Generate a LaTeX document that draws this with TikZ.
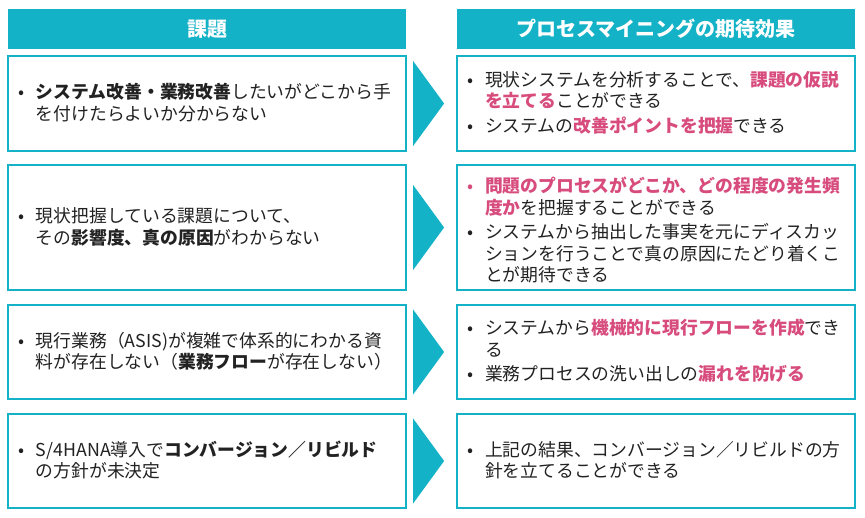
\documentclass[tikz,border=0pt]{standalone}
\usepackage{fontspec}
\setmainfont{Noto Sans CJK JP}
\usetikzlibrary{calc}
\definecolor{teal1}{HTML}{14B2C6}
\definecolor{pinkc}{HTML}{D74C7C}
\definecolor{txt}{HTML}{222222}
\newcommand\hl[1]{{\bfseries\color{pinkc}#1}}
\newcommand\bitem[2][txt]{\par\noindent\hangindent=20pt\hangafter=1\makebox[20pt][l]{\hspace{2pt}\textcolor{#1}{•}}#2\par}
\tikzset{
  hdr/.style={fill=teal1, text=white, minimum width=398pt, minimum height=40pt,
    inner sep=0pt, font=\bfseries\fontsize{20pt}{24pt}\selectfont},
  cbox/.style={draw=teal1, line width=1.2pt, fill=white, text=txt,
    minimum width=398pt, inner xsep=8pt, inner ysep=0pt, text width=382pt,
    font=\fontsize{17.8pt}{21.5pt}\selectfont,
    execute at begin node={\setlength{\parskip}{3pt}},
    execute at end node={\vspace{#1}}},
  cbox/.default=11pt,
  chev/.style={fill=teal1, draw=none}
}
\begin{document}
\begin{tikzpicture}[x=1pt,y=-1pt]
\useasboundingbox (0,0) rectangle (865,518);
\node[hdr] (HL) at (207,29) {課題};
\node[hdr] (HR) at (656,29) {プロセスマイニングの期待効果};

\node[cbox, minimum height=95pt] (L1) at (207,103.5) {%
\bitem{\textbf{システム改善・業務改善}したいがどこから手\newline を付けたらよいか分からない}};
\node[cbox, minimum height=95pt] (R1) at (656,103.5) {%
\bitem{現状システムを分析することで、\hl{課題の仮説}\newline \hl{を立てる}ことができる}%
\bitem{システムの\hl{改善ポイントを把握}できる}};

\node[cbox, minimum height=125pt] (L2) at (207,227.5) {%
\bitem{現状把握している課題について、\newline その\textbf{影響度、真の原因}がわからない}};
\node[cbox=3pt, minimum height=125pt] (R2) at (656,227.5) {%
\bitem[pinkc]{\hl{問題のプロセスがどこか、どの程度の発生頻}\newline \hl{度か}を把握することができる}%
\bitem{システムから抽出した事実を元にディスカッ\newline ションを行うことで真の原因にたどり着くこ\newline とが期待できる}};

\node[cbox, minimum height=94pt] (L3) at (207,352) {%
\bitem{現行業務（ASIS)が複雑で体系的にわかる資\newline 料が存在しない（\textbf{業務フロー}が存在しない）}};
\node[cbox, minimum height=94pt] (R3) at (656,352) {%
\bitem{システムから\hl{機械的に現行フローを作成}でき\newline る}%
\bitem{業務プロセスの洗い出しの\hl{漏れを防げる}}};

\node[cbox, minimum height=94pt] (L4) at (207,461) {%
\bitem{S/4HANA導入で\textbf{コンバージョン／リビルド}\newline の方針が未決定}};
\node[cbox, minimum height=94pt] (R4) at (656,461) {%
\bitem{上記の結果、コンバージョン／リビルドの方\newline 針を立てることができる}};

\foreach \b in {L1,L2,L3,L4}{
  \fill[chev] ($(\b.east)+(6.5,-42.5)$) -- ($(\b.east)+(37.5,0)$) -- ($(\b.east)+(6.5,42.5)$) -- cycle;
}
\end{tikzpicture}
\end{document}
